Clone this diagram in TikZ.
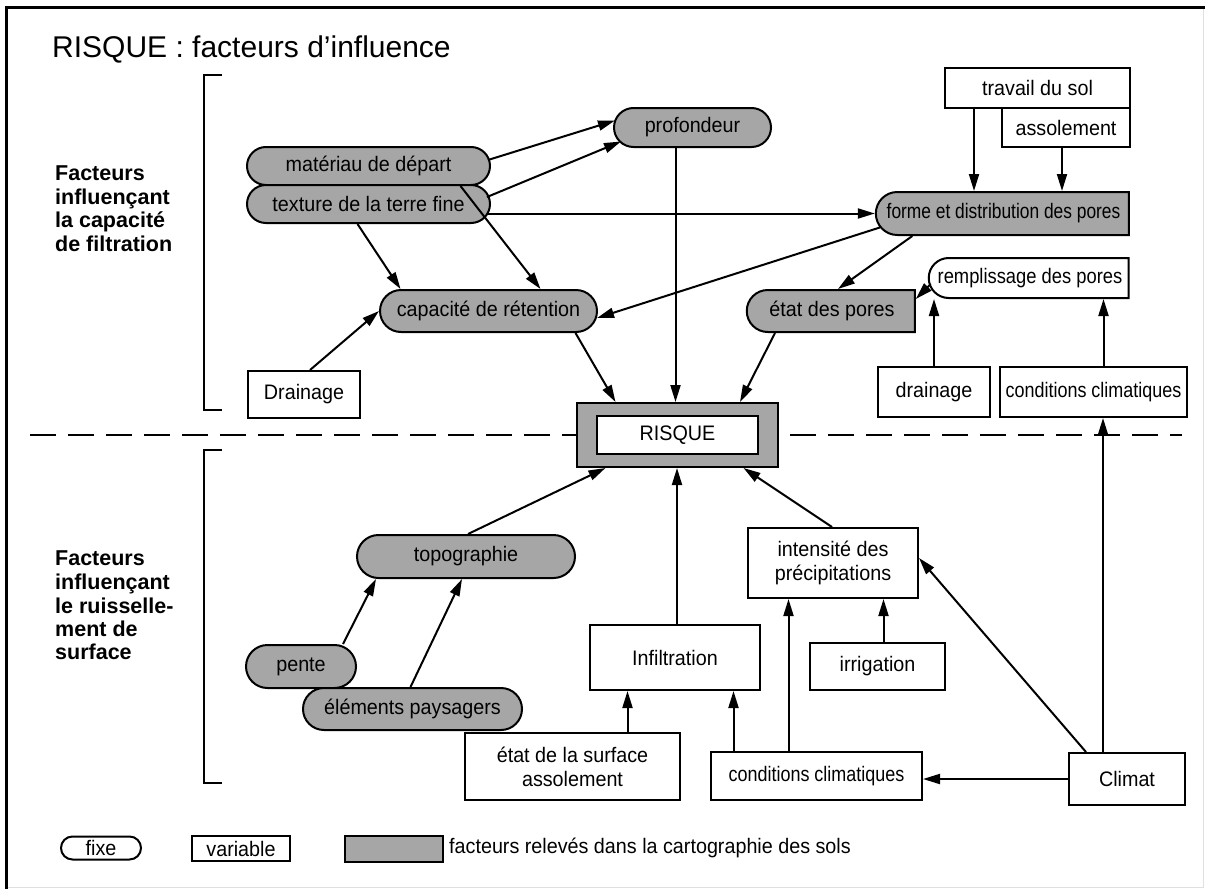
\documentclass[tikz,border=0pt]{standalone}
\usepackage{fontspec}
\usepackage{graphicx}
\setmainfont{Liberation Sans}[FakeStretch=0.94]
\newfontfamily\plainsans{Liberation Sans}
\usetikzlibrary{arrows.meta,shapes.misc,calc}
\definecolor{soilgray}{gray}{0.65}

\begin{document}
\begin{tikzpicture}[x=1pt,y=-1pt,
  every node/.style={inner sep=0pt, font=\fontsize{21}{24}\selectfont},
  box/.style={draw=black, line width=2pt, align=center},
  fixbox/.style={box, rounded rectangle, fill=soilgray},
  halfbox/.style={box, rounded rectangle, rounded rectangle right arc=none, fill=soilgray},
  whitehalf/.style={box, rounded rectangle, rounded rectangle right arc=none, fill=white},
  varbox/.style={box, rectangle, fill=white},
  arr/.style={draw=black, line width=2pt, -{Triangle[length=17pt,width=10pt]}},
  bracket/.style={line width=2.4pt},
  divider/.style={line width=1.8pt, dash pattern=on 26pt off 12pt},
  sidelabel/.style={anchor=north west, align=left, font=\plainsans\bfseries\fontsize{21.5}{23.5}\selectfont},
]
% page and frame
\fill[white] (0,0) rectangle (1205,889);
\useasboundingbox (0,0) rectangle (1205,889);
\draw[black!12, line width=1pt] (1203,7) -- (1203,887) -- (6,887);
\draw[line width=3pt] (6,889) -- (6,7) -- (1205,7);

% title
\node[anchor=base west, font=\plainsans\fontsize{30}{34}\selectfont] (title) at (52,57) {RISQUE : facteurs d’influence};

% section labels and brackets
\node[sidelabel] (labA) at (55,166) {Facteurs\\influençant\\la capacité\\de filtration};
\node[sidelabel] (labB) at (55,551) {Facteurs\\influençant\\le ruisselle-\\ment de\\surface};
\draw[bracket] (222,75) -- (204,75) -- (204,410) -- (222,410);
\draw[bracket] (222,450) -- (204,450) -- (204,783) -- (222,783);

% dividing line
\draw[divider] (30,435) -- (577,435);
\draw[divider] (790,435) -- (1182,435);

% upper part: filtration
\node[fixbox, minimum width=243, minimum height=38] (mat) at (368.5,166) {matériau de départ};
\node[fixbox, minimum width=243, minimum height=38] (tex) at (368.5,204) {texture de la terre fine};
\node[fixbox, minimum width=157, minimum height=39] (prof) at (692.5,127.5) {profondeur};
\node[varbox, minimum width=185, minimum height=40] (trav) at (1037.5,88) {travail du sol};
\node[varbox, minimum width=128, minimum height=39] (assol) at (1066,127.5) {assolement};
\node[halfbox, minimum width=253, minimum height=43] (forme) at (1003.5,213.5) {\scalebox{0.88}[1]{forme et distribution des pores}};
\node[whitehalf, minimum width=200, minimum height=40] (rempl) at (1030,278) {\scalebox{0.93}[1]{remplissage des pores}};
\node[halfbox, minimum width=168, minimum height=42] (etat) at (832,311) {état des pores};
\node[fixbox, minimum width=217, minimum height=42] (cap) at (488.5,311) {capacité de rétention};
\node[varbox, minimum width=112, minimum height=47] (drainL) at (304,394.5) {Drainage};
\node[varbox, minimum width=112, minimum height=50] (drainR) at (934,392) {drainage};
\node[varbox, minimum width=187, minimum height=50] (condH) at (1093.5,392) {\scalebox{0.91}[1]{conditions climatiques}};

% central node
\node[box, fill=soilgray, minimum width=201, minimum height=64] (risk) at (677.5,435) {};
\node[varbox, minimum width=161, minimum height=38] (riskin) at (risk.center) {RISQUE};

% lower part: runoff
\node[fixbox, minimum width=218, minimum height=43] (topo) at (466,556.5) {topographie};
\node[fixbox, minimum width=110, minimum height=43] (pente) at (301,666.5) {pente};
\node[fixbox, minimum width=219, minimum height=42] (elem) at (412.5,709) {éléments paysagers};
\node[varbox, minimum width=170, minimum height=65] (infil) at (675,657.5) {Infiltration};
\node[varbox, minimum width=170, minimum height=70] (intens) at (833,563) {intensité des\\précipitations};
\node[varbox, minimum width=135, minimum height=47] (irrig) at (877.5,666.5) {irrigation};
\node[varbox, minimum width=215, minimum height=67] (surf) at (572.5,766.5) {état de la surface\\assolement};
\node[varbox, minimum width=211, minimum height=48] (condL) at (816.5,776) {\scalebox{0.91}[1]{conditions climatiques}};
\node[varbox, minimum width=116, minimum height=52] (climat) at (1127,779) {Climat};

% legend
\node[box, rounded rectangle, fill=white, minimum width=80, minimum height=23] (lfix) at (101,848) {fixe};
\node[varbox, minimum width=98, minimum height=25] (lvar) at (241,848.5) {variable};
\node[box, rectangle, fill=soilgray, minimum width=98, minimum height=26] (lgray) at (394,849) {};
\node[anchor=west] (ltext) at (449,848) {facteurs relevés dans la cartographie des sols};

% connectors, upper part
\draw[arr] ($(mat.east)+(-3,-6)$) -- ($(prof.west)+(2,-7)$);
\draw[arr] ($(tex.east)+(-4,-7)$) -- ($(prof.west)+(8,14)$);
\draw[arr] ($(tex.east |- forme.west)+(-3,0)$) -- (forme.west);
\draw[arr] ($(mat.south)+(92,0)$) -- ($(cap.north)+(52,0)$);
\draw[arr] ($(tex.south)+(-11,0)$) -- ($(cap.north)+(-88,0)$);
\draw[arr] ($(drainL.north)+(6,0)$) -- (cap.west);
\draw[arr] ($(forme.west)+(5,14)$) -- ($(cap.east)+(-1,7)$);
\draw[arr] ($(forme.south west)+(15,0)$) -- ($(etat.north)+(6,0)$);
\draw[arr] ($(rempl.west)+(3,6)$) -- ($(etat.north east)+(0,10)$);
\draw[arr] (drainR.north) -- (drainR.north |- rempl.south);
\draw[arr] ($(condH.north)+(10,0)$) coordinate (cu) -- (cu |- rempl.south);
\draw[arr] ($(trav.south west)+(30,0)$) coordinate (tw) -- (tw |- forme.north);
\draw[arr] ($(assol.south)+(-4,0)$) coordinate (as) -- (as |- forme.north);
\draw[arr] ($(prof.south)+(-17,0)$) coordinate (pr) -- (pr |- risk.north);
\draw[arr] ($(cap.south)+(87,0)$) -- ($(risk.north)+(-62,0)$);
\draw[arr] ($(etat.south)+(-57,0)$) -- ($(risk.north)+(62.5,0)$);

% connectors, lower part
\draw[arr] ($(climat.north)+(-24,0)$) coordinate (cl) -- (cl |- condH.south);
\draw[arr] (climat.west) -- (climat.west -| condL.east);
\draw[arr] ($(climat.north west)+(18,0)$) -- ($(intens.east)+(0,-5)$);
\draw[arr] ($(condL.north)+(-28,0)$) coordinate (c1) -- (c1 |- intens.south);
\draw[arr] ($(condL.north)+(-83,0)$) coordinate (c2) -- (c2 |- infil.south);
\draw[arr] ($(surf.north)+(55,0)$) coordinate (s1) -- (s1 |- infil.south);
\draw[arr] ($(irrig.north)+(6,0)$) coordinate (ir) -- (ir |- intens.south);
\draw[arr] ($(infil.north)+(2,0)$) coordinate (in) -- (in |- risk.south);
\draw[arr] ($(intens.north)+(-1,0)$) -- ($(risk.south)+(66,0)$);
\draw[arr] ($(topo.north)+(2,0)$) -- ($(risk.south)+(-72,0)$);
\draw[arr] ($(pente.north)+(42,0)$) -- ($(topo.south)+(-90,0)$);
\draw[arr] ($(elem.north)+(-2,0)$) -- ($(topo.south)+(-4,0)$);
\end{tikzpicture}
\end{document}
